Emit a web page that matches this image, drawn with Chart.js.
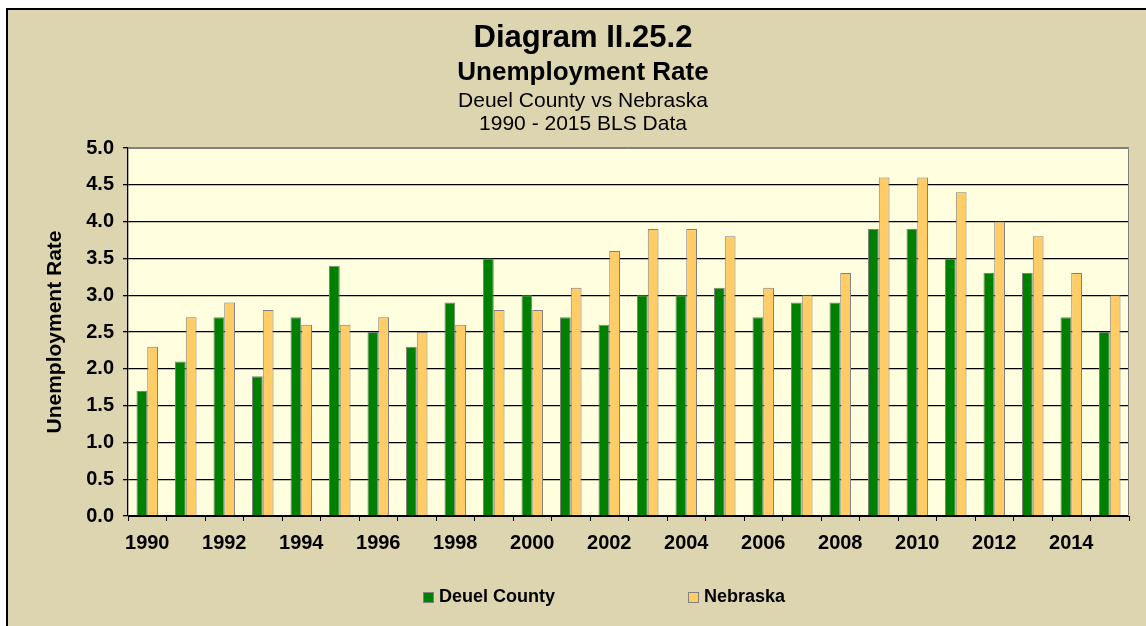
<!DOCTYPE html>
<html>
<head>
<meta charset="utf-8">
<title>Diagram II.25.2</title>
<script src="https://cdn.jsdelivr.net/npm/chart.js@4.4.1/dist/chart.umd.min.js"></script>
<style>
	body { margin: 0; background: #ffffff; overflow: hidden; font-family: "Liberation Sans", Arial, sans-serif; }
	#frame { position: absolute; left: 6px; top: 8px; width: 1200px; height: 700px; border: 2px solid #000; background: #ddd5b0; }
	#wrap { position: absolute; left: 0; top: 0; width: 1146px; height: 626px; }
	.t { position: absolute; left: 0; width: 1166px; text-align: center; color: #000; white-space: nowrap; }
	#t1 { top: 21px; font-size: 31px; line-height: 31px; font-weight: bold; }
	#t2 { top: 58px; font-size: 26px; line-height: 26px; font-weight: bold; }
	#t3 { top: 89px; font-size: 21px; line-height: 21px; }
	#t4 { top: 112px; font-size: 21px; line-height: 21px; }
	.leg { position: absolute; top: 587px; font-size: 18px; line-height: 18px; font-weight: bold; color: #000; white-space: nowrap; }
	.leg span { display: inline-block; width: 9px; height: 9px; border: 1px solid #808080; margin-right: 5px; vertical-align: -1px; }
</style>
</head>
<body>
<div id="frame"></div>
<div id="wrap"><canvas id="myChart" width="1146" height="626"></canvas></div>
<div class="t" id="t1">Diagram II.25.2</div>
<div class="t" id="t2">Unemployment Rate</div>
<div class="t" id="t3">Deuel County vs Nebraska</div>
<div class="t" id="t4">1990 - 2015 BLS Data</div>
<div class="leg" style="left:423px"><span style="background:#008000"></span>Deuel County</div>
<div class="leg" style="left:688px"><span style="background:#ffcc66"></span>Nebraska</div>
<script>
var years = ['1990','1991','1992','1993','1994','1995','1996','1997','1998','1999','2000','2001','2002',
	'2003','2004','2005','2006','2007','2008','2009','2010','2011','2012','2013','2014','2015'];
var deuel = [1.7, 2.1, 2.7, 1.9, 2.7, 3.4, 2.5, 2.3, 2.9, 3.5, 3.0, 2.7, 2.6,
	3.0, 3.0, 3.1, 2.7, 2.9, 2.9, 3.9, 3.9, 3.5, 3.3, 3.3, 2.7, 2.5];
var nebraska = [2.3, 2.7, 2.9, 2.8, 2.6, 2.6, 2.7, 2.5, 2.6, 2.8, 2.8, 3.1, 3.6,
	3.9, 3.9, 3.8, 3.1, 3.0, 3.3, 4.6, 4.6, 4.4, 4.0, 3.8, 3.3, 3.0];
var yTicks = [0, 0.5, 1.0, 1.5, 2.0, 2.5, 3.0, 3.5, 4.0, 4.5, 5.0];

// plot area fill + gray top/right edge
var plotArea = {
	id: 'plotArea',
	beforeDraw: function(chart){
		var a = chart.chartArea, c = chart.ctx;
		c.save();
		c.fillStyle = '#ffffe0';
		c.fillRect(a.left, a.top, a.right - a.left, a.bottom - a.top);
		c.restore();
	},
	afterDraw: function(chart){
		var a = chart.chartArea, c = chart.ctx;
		c.save();
		c.strokeStyle = '#808080';
		c.lineWidth = 1;
		c.beginPath();
		c.moveTo(a.left, a.top + 0.5);
		c.lineTo(a.right - 0.5, a.top + 0.5);
		c.lineTo(a.right - 0.5, a.bottom);
		c.stroke();
		c.restore();
	}
};

var chartdata = {
	labels: years,
	datasets: [{
		label: 'Deuel County',
		data: deuel,
		backgroundColor: '#008000',
		borderColor: '#808080',
		borderWidth: 1
	}, {
		label: 'Nebraska',
		data: nebraska,
		backgroundColor: '#ffcc66',
		borderColor: '#808080',
		borderWidth: 1
	}]
};

var ctx = document.getElementById('myChart');
var barGraph = new Chart(ctx, {
	type: 'bar',
	data: chartdata,
	plugins: [plotArea],
	options: {
		responsive: false,
		animation: false,
		devicePixelRatio: 1,
		categoryPercentage: 0.56,
		barPercentage: 1.0,
		layout: { padding: { left: 40, right: 17, top: 148, bottom: 61 } },
		plugins: {
			legend: { display: false },
			tooltip: { enabled: false }
		},
		scales: {
			x: {
				grid: { drawOnChartArea: false, drawTicks: true, tickLength: 5, color: '#000' },
				border: { color: '#000', width: 1 },
				ticks: {
					autoSkip: false, maxRotation: 0, padding: 10, color: '#000',
					font: { family: 'Liberation Sans', size: 20, weight: 'bold' },
					callback: function(v, i){ return i % 2 === 0 ? years[i] : ''; }
				}
			},
			y: {
				min: 0, max: 5,
				afterFit: function(scale){ scale.width = 88; },
				afterBuildTicks: function(scale){ scale.ticks = yTicks.map(function(v){ return { value: v }; }); },
				grid: {
					drawTicks: true, tickLength: 5, tickColor: '#000', lineWidth: 1.3,
					color: function(c){ return c.tick && c.tick.value === 5 ? '#808080' : '#000'; }
				},
				border: { color: '#000', width: 1.3 },
				ticks: {
					padding: 9, color: '#000',
					font: { family: 'Liberation Sans', size: 20, weight: 'bold' },
					callback: function(v){ return v.toFixed(1); }
				},
				title: {
					display: true, text: 'Unemployment Rate', color: '#000',
					padding: { top: 3, bottom: 4 },
					font: { family: 'Liberation Sans', size: 21, weight: 'bold' }
				}
			}
		}
	}
});
</script>
</body>
</html>
